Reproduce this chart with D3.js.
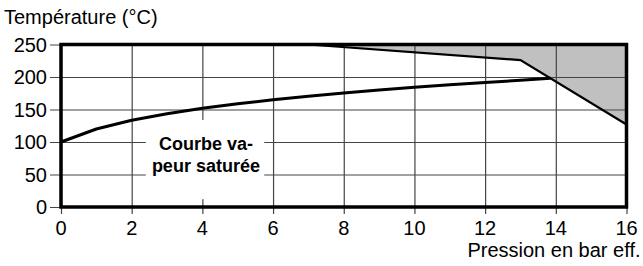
<!DOCTYPE html>
<html>
<head>
<meta charset="utf-8">
<script src="https://cdn.jsdelivr.net/npm/d3@7"></script>
<style>
  body { margin: 0; background: #fff; }
  text { font-family: 'Liberation Sans', Arial, sans-serif; }
</style>
</head>
<body>
<div id="chart"></div>
<script>
// saturated steam curve (gauge pressure in bar, temperature in °C)
const pressure = [0, 1, 2, 3, 4, 5, 6, 7, 8, 9, 10, 11, 12, 13, 13.85]
const satTemp = [100, 120, 133.5, 143.6, 151.8, 158.8, 165, 170.4, 175.4, 179.9, 184.1, 188, 191.6, 195, 198]

// upper limit line, area above is grey
const limitPressure = [7, 13, 16]
const limitTemp = [250, 226, 127]

const xTicks = [0, 2, 4, 6, 8, 10, 12, 14, 16]
const yTicks = [0, 50, 100, 150, 200, 250]

const margin = { top: 44.5, left: 61, right: 16.5, bottom: 59 }
const width = 643 - margin.left - margin.right
const height = 266 - margin.top - margin.bottom

const svg = d3
  .select('#chart')
  .append('svg')
  .attr('width', 643)
  .attr('height', 266)
  .append('g')
  .attr('transform', 'translate(' + margin.left + ',' + margin.top + ')')

const xPositionScale = d3.scaleLinear().domain([0, 16]).range([0, width])
const yPositionScale = d3.scaleLinear().domain([0, 250]).range([height, 0])

// grey zone above the limit line
const limitPoints = limitPressure.map((p, i) => ({ p: p, t: limitTemp[i] }))
const area = d3
  .area()
  .x(d => xPositionScale(d.p))
  .y0(yPositionScale(250))
  .y1(d => yPositionScale(d.t))

svg
  .append('path')
  .datum(limitPoints)
  .attr('d', area)
  .attr('fill', '#c0c0c0')

// grid
const xAxis = d3
  .axisBottom(xPositionScale)
  .tickValues(xTicks)
  .tickSize(-height - 7)
  .tickFormat('')
svg
  .append('g')
  .attr('class', 'axis x-axis')
  .attr('transform', 'translate(0,' + (height + 7) + ')')
  .call(xAxis)

const yAxis = d3
  .axisLeft(yPositionScale)
  .tickValues(yTicks)
  .tickSize(-width - 11)
  .tickFormat('')
svg
  .append('g')
  .attr('class', 'axis y-axis')
  .attr('transform', 'translate(-11,0)')
  .call(yAxis)

svg.selectAll('.axis path').remove()
svg
  .selectAll('.axis line')
  .attr('stroke', '#444')
  .attr('stroke-width', 1.2)

// tick labels
svg
  .selectAll('.x-label')
  .data(xTicks)
  .enter()
  .append('text')
  .attr('class', 'x-label')
  .text(d => d)
  .attr('x', d => xPositionScale(d))
  .attr('y', height + 28)
  .attr('text-anchor', 'middle')
  .attr('font-size', 20)

svg
  .selectAll('.y-label')
  .data(yTicks)
  .enter()
  .append('text')
  .attr('class', 'y-label')
  .text(d => d)
  .attr('x', -14)
  .attr('y', d => yPositionScale(d) + 7)
  .attr('text-anchor', 'end')
  .attr('font-size', 20)

// label box hides the grid behind it
svg
  .append('rect')
  .attr('x', xPositionScale(2.4))
  .attr('y', yPositionScale(134))
  .attr('width', xPositionScale(5.75) - xPositionScale(2.4))
  .attr('height', yPositionScale(12) - yPositionScale(134))
  .attr('fill', '#fff')

svg
  .append('text')
  .text('Courbe va-')
  .attr('x', xPositionScale(4.1))
  .attr('y', yPositionScale(87))
  .attr('text-anchor', 'middle')
  .attr('font-size', 18)
  .attr('font-weight', 'bold')

svg
  .append('text')
  .text('peur saturée')
  .attr('x', xPositionScale(4.1))
  .attr('y', yPositionScale(54))
  .attr('text-anchor', 'middle')
  .attr('font-size', 18)
  .attr('font-weight', 'bold')

// saturated steam line
const line = d3
  .line()
  .x(d => xPositionScale(d.p))
  .y(d => yPositionScale(d.t))

svg
  .append('path')
  .datum(pressure.map((p, i) => ({ p: p, t: satTemp[i] })))
  .attr('d', line)
  .attr('stroke', '#000')
  .attr('stroke-width', 3)
  .attr('stroke-linejoin', 'round')
  .attr('fill', 'none')

svg
  .append('path')
  .datum(limitPoints)
  .attr('d', line)
  .attr('stroke', '#000')
  .attr('stroke-width', 2.2)
  .attr('fill', 'none')

// frame
svg
  .append('rect')
  .attr('width', width)
  .attr('height', height)
  .attr('fill', 'none')
  .attr('stroke', '#000')
  .attr('stroke-width', 3.5)

// axis titles
svg
  .append('text')
  .text('Température (°C)')
  .attr('x', -57)
  .attr('y', -21)
  .attr('font-size', 20)

svg
  .append('text')
  .text('Pression en bar eff.')
  .attr('x', width + 14)
  .attr('y', height + 50)
  .attr('text-anchor', 'end')
  .attr('font-size', 20)
</script>
</body>
</html>
